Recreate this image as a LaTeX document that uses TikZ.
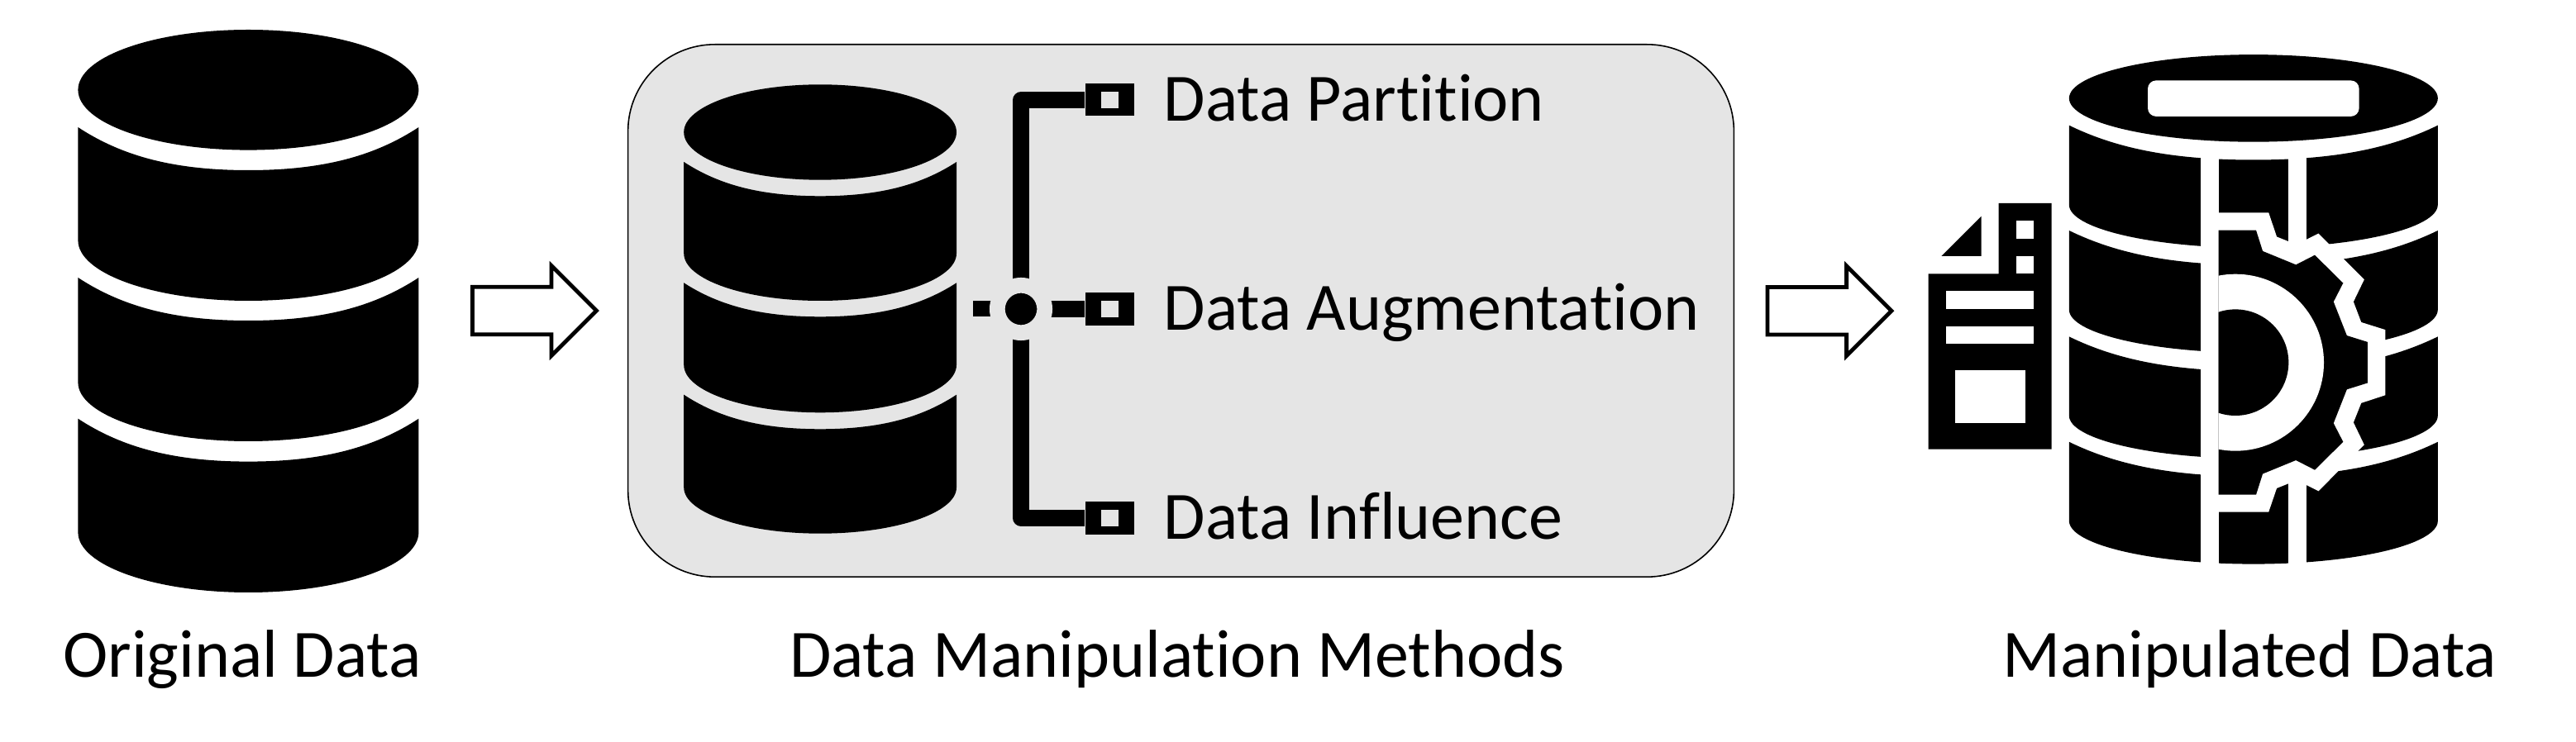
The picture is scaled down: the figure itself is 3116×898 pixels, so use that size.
\documentclass[tikz,border=0pt]{standalone}
\usepackage{fontspec}
\setmainfont{Carlito}[Ligatures=NoCommon]
\usetikzlibrary{shapes.arrows}
\definecolor{panelgray}{HTML}{E5E5E5}

% one band of a database drum: centre, half width, corner, dip, side end, bottom
\newcommand{\dbslice}[6]{
	\fill ({#1-#2},#3) .. controls ({#1-.75*#2},{#3+.65*(#4-#3)}) and ({#1-.45*#2},#4) .. (#1,#4)
		.. controls ({#1+.45*#2},#4) and ({#1+.75*#2},{#3+.65*(#4-#3)}) .. ({#1+#2},#3)
		-- ({#1+#2},#5) .. controls ({#1+#2},{#5+.55*(#6-#5)}) and ({#1+.55*#2},#6) .. (#1,#6)
		.. controls ({#1-.55*#2},#6) and ({#1-#2},{#5+.55*(#6-#5)}) .. ({#1-#2},#5) -- cycle;
}

\begin{document}
\begin{tikzpicture}[x=0.01cm,y=-0.01cm]
\tikzset{
	caption/.style={inner sep=0pt,anchor=base,font=\fontsize{23.3}{27}\selectfont},
	method/.style={inner sep=0pt,anchor=base west,font=\fontsize{23.3}{27}\selectfont},
	blockarrow/.style={single arrow,draw,line width=0.048cm,fill=white,inner xsep=0pt,inner ysep=0.263cm,anchor=tip,
		outer sep=0pt,minimum height=1.5cm,single arrow head extend=0.257cm,single arrow tip angle=90,single arrow head indent=0pt},
	panelbox/.style={rectangle,draw,line width=0.016cm,fill=panelgray,rounded corners=1.05cm,inner sep=0pt,
		minimum width=13.37cm,minimum height=6.44cm},
	port/.style={rectangle,fill=black,inner sep=0pt,minimum width=0.59cm,minimum height=0.39cm},
	porthole/.style={rectangle,fill=panelgray,inner sep=0pt,minimum width=0.206cm,minimum height=0.194cm},
	tick/.style={rectangle,fill=black,inner sep=0pt,minimum width=0.28cm,minimum height=0.193cm},
	hub/.style={circle,fill=black,draw=panelgray,line width=0.187cm,inner sep=0pt,minimum size=0.573cm},
	bus/.style={line width=0.194cm,line join=round},
	docpart/.style={fill=white}
}
\useasboundingbox (0,0) rectangle (3116,898);

% original data
\fill (300.4,108.8) ellipse [x radius=206,y radius=72.8];
\dbslice{300.4}{206}{154}{206}{291}{364}
\dbslice{300.4}{206}{336}{388}{463}{534}
\dbslice{300.4}{206}{506.7}{558.6}{644.4}{717}

\path
	(721.5,376) node[blockarrow] (arrowa) {}
	(2288,376.3) node[blockarrow] (arrowb) {}
	(1428.5,376) node[panelbox] (panel) {}
;

% methods panel
\fill (992.1,160) ellipse [x radius=164.9,y radius=57.7];
\dbslice{992.1}{164.9}{196}{237.3}{306.7}{364}
\dbslice{992.1}{164.9}{342.3}{383.3}{441.7}{499.3}
\dbslice{992.1}{164.9}{477.7}{519.3}{590}{645.7}

\path
	(1342.3,121) node[port] (parta) {}
	(1342.3,374) node[port] (partb) {}
	(1342.3,627) node[port] (partc) {}
	(1191,373.7) node[tick] (tick) {}
;
\coordinate (hubc) at (1235,374);
\draw[bus] (hubc) |- (parta.west);
\draw[bus] (hubc) -- (partb.west);
\draw[bus] (hubc) |- (partc.west);
\node[hub] (hub) at (hubc) {};
\node[porthole] (holea) at (parta) {};
\node[porthole] (holeb) at (partb) {};
\node[porthole] (holec) at (partc) {};

\path
	(1407,146.7) node[method] (lblpart) {Data Partition}
	(1407,399.7) node[method] (lblaug) {Data Augmentation}
	(1407,652.7) node[method] (lblinf) {Data Influence}
;

% document sheet
\fill (2332.7,331.3) -- (2417.7,331.3) -- (2417.7,246) -- (2481.7,246) -- (2481.7,543.7) -- (2332.7,543.7) -- cycle;
\fill (2348.3,310) -- (2396.7,310) -- (2396.7,261.7) -- cycle;
\fill[docpart] (2439,267.3) rectangle (2460.3,289);
\fill[docpart] (2439,310) rectangle (2460.3,331.3);
\fill[docpart] (2354,352.3) rectangle (2460.3,374);
\fill[docpart] (2354,395) rectangle (2460.3,416.3);
\fill[docpart] (2364.7,448.3) rectangle (2449.7,512);

% manipulated data
\fill (2725.8,118.9) ellipse [x radius=223,y radius=52.8];
\fill[white,rounded corners=0.1cm] (2598,97.4) rectangle (2853.6,140.9);
\dbslice{2725.8}{223}{151.7}{193.5}{247.8}{300}
\dbslice{2725.8}{223}{279}{320.8}{374.8}{427}
\dbslice{2725.8}{223}{407.4}{449.2}{503}{555}
\dbslice{2725.8}{223}{534.8}{576.6}{630.4}{682.6}

% white cuts and the gear
\fill[white] (2662,172) rectangle (2683.5,705);
\fill[white] (2768.3,172) rectangle (2789.7,292);
\fill[white] (2768.3,585) rectangle (2789.7,705);
\fill[white] (2683.5,257.4) -- (2744.2,257.4) -- (2754,286.5) -- (2768.3,292.2) -- (2789.7,290) -- (2804.5,282.6)
	-- (2859.8,338.3) -- (2846.8,365.2) -- (2856.2,390) -- (2885.2,399.1) -- (2885.2,478.3) -- (2856.2,487.8)
	-- (2846.8,511.3) -- (2859.8,538.3) -- (2804.5,594.4) -- (2789.7,587) -- (2768.3,585.2) -- (2754,590.9)
	-- (2744.2,619.6) -- (2683.5,619.6) -- cycle;
\fill (2683.5,278.7) -- (2729,278.7) -- (2737,303.9) -- (2777.2,320.4) -- (2800,308.7) -- (2834.3,342.6)
	-- (2822.7,365.2) -- (2838.8,406.1) -- (2863.8,413.9) -- (2863.8,463.5) -- (2838.8,471.3) -- (2822.7,512.2)
	-- (2834.3,534.8) -- (2800,568.7) -- (2777.2,557) -- (2737,573.5) -- (2729,598.7) -- (2683.5,598.7) -- cycle;
\begin{scope}
	\clip (2683.5,200) rectangle (2900,700);
	\fill[white] (2704,438.7) circle [radius=107];
	\fill (2704,438.7) circle [radius=64.3];
\end{scope}

\path
	(292.8,820) node[caption] (lblorig) {Original Data}
	(1424,820) node[caption] (lblmeth) {Data Manipulation Methods}
	(2721,820) node[caption] (lblout) {Manipulated Data}
;
\end{tikzpicture}
\end{document}
